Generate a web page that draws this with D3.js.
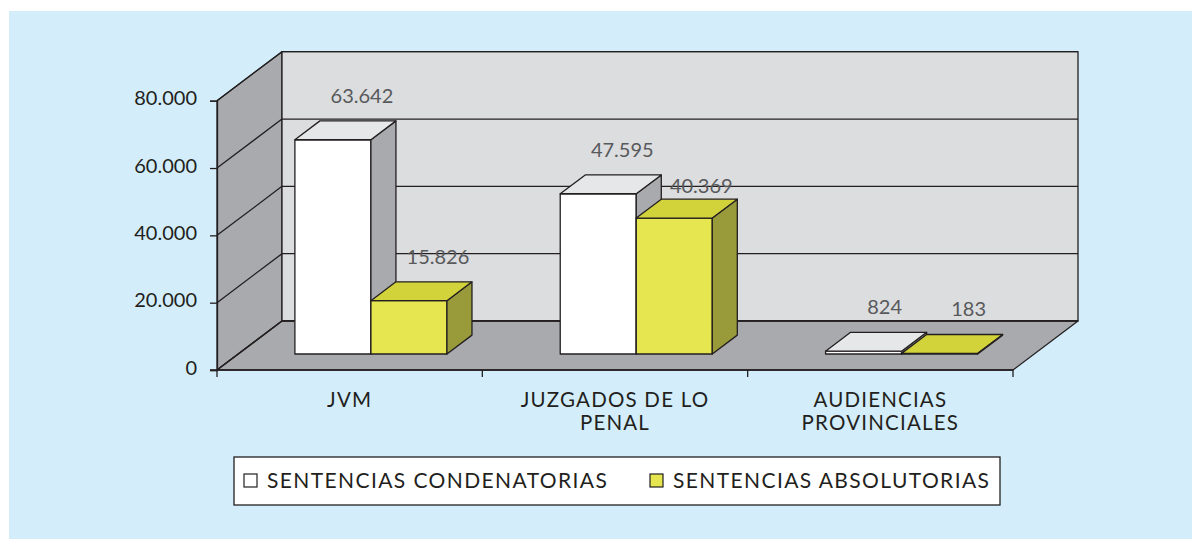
<!DOCTYPE html>
<html>
<head>
<meta charset="utf-8">
<script src="https://cdn.jsdelivr.net/npm/d3@7"></script>
<style>
  html, body { margin: 0; padding: 0; background: #fff; }
  svg { display: block; font-family: Lato, "Open Sans", sans-serif; }
</style>
</head>
<body>
<div id="chart"></div>
<script>
// data
const categories = ["JVM", "JUZGADOS DE LO PENAL", "AUDIENCIAS PROVINCIALES"]
const categoryLines = [["JVM"], ["JUZGADOS DE LO", "PENAL"], ["AUDIENCIAS", "PROVINCIALES"]]
const seriesNames = ["SENTENCIAS CONDENATORIAS", "SENTENCIAS ABSOLUTORIAS"]
const condenatorias = [63642, 47595, 824]
const absolutorias = [15826, 40369, 183]
const yTicks = [0, 20000, 40000, 60000, 80000]

// layout
const width = 1192, height = 539
const DX = 65, DY = 49            // depth of the floor
const zFront = 0.327, zBack = 0.712 // depth slot of the bars
// hand placed labels in the original ([dx, dy] per bar)
const labelNudge = [[[0, 0], [0, 0]], [[-5, 0], [-2, 12]], [[-8, 0], [0, 0]]]

const colors = {
  bg: "#d3eefa",
  wall: "#dcdddf",
  side: "#a9aaad",
  line: "#231f20",
  white: { front: "#ffffff", top: "#e6e7e8", side: "#a9aaad" },
  yellow: { front: "#e6e651", top: "#d2d23a", side: "#999b3b" }
}

const es = d3.formatLocale({ decimal: ",", thousands: ".", grouping: [3], currency: ["", " €"] })
const fmt = es.format(",d")

const svg = d3.select("#chart").append("svg")
  .attr("width", width)
  .attr("height", height)

svg.append("rect")
  .attr("x", 9).attr("y", 11)
  .attr("width", width - 9).attr("height", height - 11)
  .attr("fill", colors.bg)

const x = d3.scaleBand().domain(categories).range([217, 1013])
const xs = d3.scaleBand().domain(seriesNames).range([0, x.bandwidth()]).paddingOuter(0.745)
const y = d3.scaleLinear().domain([0, 80000]).range([370, 100.7])

const x0 = x.range()[0], x1 = x.range()[1]
const proj = (px, v, z) => [px + z * DX, y(v) - z * DY]
const line = d3.line()

// walls and floor
const frame = svg.append("g").attr("stroke", colors.line).attr("stroke-width", 1.3).attr("stroke-linejoin", "round")

frame.append("path")
  .attr("fill", colors.side)
  .attr("d", line([proj(x0, 0, 0), proj(x0, 80000, 0), proj(x0, 80000, 1), proj(x0, 0, 1)]) + "Z")

frame.append("path")
  .attr("fill", colors.wall)
  .attr("d", line([proj(x0, 0, 1), proj(x0, 80000, 1), proj(x1, 80000, 1), proj(x1, 0, 1)]) + "Z")

frame.append("path")
  .attr("fill", colors.side)
  .attr("d", line([proj(x0, 0, 0), proj(x1, 0, 0), proj(x1, 0, 1), proj(x0, 0, 1)]) + "Z")

// gridlines on side and back walls
yTicks.forEach(t => {
  frame.append("path")
    .attr("fill", "none")
    .attr("d", line([proj(x0, t, 0), proj(x0, t, 1), proj(x1, t, 1)]))
})

// y axis
const yAxis = svg.append("g").attr("transform", `translate(${x0},0)`)
  .call(d3.axisLeft(y).tickValues(yTicks).tickFormat(fmt).tickSize(7).tickPadding(13))
yAxis.select(".domain").attr("stroke", colors.line).attr("stroke-width", 1.3)
yAxis.selectAll(".tick line").attr("stroke", colors.line).attr("stroke-width", 1.3)
yAxis.selectAll(".tick text")
  .attr("fill", colors.line)
  .attr("font-size", 20)
  .attr("dy", "0.2em")
  .attr("font-family", "Lato, sans-serif")

// x axis ticks on the floor edge
const xTickPos = categories.map(c => x(c)).concat([x1])
svg.append("g").selectAll("line").data(xTickPos).join("line")
  .attr("x1", d => d).attr("x2", d => d)
  .attr("y1", y(0)).attr("y2", y(0) + 7)
  .attr("stroke", colors.line).attr("stroke-width", 1.3)

svg.append("line")
  .attr("x1", x0 - 7).attr("x2", x1)
  .attr("y1", y(0)).attr("y2", y(0))
  .attr("stroke", colors.line).attr("stroke-width", 1.3)

// category labels
svg.append("g").selectAll("text").data(categories).join("text")
  .attr("text-anchor", "middle")
  .attr("font-size", 20.5)
  .attr("letter-spacing", 1.2)
  .attr("fill", colors.line)
  .attr("transform", d => `translate(${x(d) + x.bandwidth() / 2},407)`)
  .each(function(d, i) {
    d3.select(this).selectAll("tspan").data(categoryLines[i]).join("tspan")
      .attr("x", 0)
      .attr("dy", (l, j) => j === 0 ? 0 : 23)
      .text(l => l)
  })

// bars
const barData = []
categories.forEach((c, i) => {
  barData.push({ cat: c, i: i, s: seriesNames[0], v: condenatorias[i], col: colors.white, k: 0 })
  barData.push({ cat: c, i: i, s: seriesNames[1], v: absolutorias[i], col: colors.yellow, k: 1 })
})

const bars = svg.append("g").attr("stroke", colors.line).attr("stroke-width", 1.3).attr("stroke-linejoin", "round")

barData.forEach(d => {
  const bx = x(d.cat) + xs(d.s)
  const bw = xs.bandwidth()
  const g = bars.append("g")
  g.append("path").attr("fill", d.col.front)
    .attr("d", line([proj(bx, 0, zFront), proj(bx + bw, 0, zFront), proj(bx + bw, d.v, zFront), proj(bx, d.v, zFront)]) + "Z")
  g.append("path").attr("fill", d.col.side)
    .attr("d", line([proj(bx + bw, 0, zFront), proj(bx + bw, 0, zBack), proj(bx + bw, d.v, zBack), proj(bx + bw, d.v, zFront)]) + "Z")
  g.append("path").attr("fill", d.col.top)
    .attr("d", line([proj(bx, d.v, zFront), proj(bx + bw, d.v, zFront), proj(bx + bw, d.v, zBack), proj(bx, d.v, zBack)]) + "Z")
})

// value labels
svg.append("g").selectAll("text").data(barData).join("text")
  .attr("text-anchor", "middle")
  .attr("font-size", 20)
  .attr("fill", "#58595b")
  .attr("x", d => proj(x(d.cat) + xs(d.s) + xs.bandwidth() / 2, d.v, zBack)[0] + 4 + labelNudge[d.i][d.k][0])
  .attr("y", d => proj(0, d.v, zBack)[1] - 25 + labelNudge[d.i][d.k][1])
  .attr("dy", "0.35em")
  .text(d => fmt(d.v))

// legend
const legend = svg.append("g").attr("transform", "translate(234,457)")
legend.append("rect")
  .attr("width", 766).attr("height", 48)
  .attr("fill", "#fff").attr("stroke", colors.line).attr("stroke-width", 1.3)

const legendX = [10, 416]
seriesNames.forEach((s, i) => {
  const it = legend.append("g").attr("transform", `translate(${legendX[i]},17)`)
  it.append("rect").attr("width", 13).attr("height", 13)
    .attr("fill", i === 0 ? colors.white.front : colors.yellow.front)
    .attr("stroke", colors.line).attr("stroke-width", 1.2)
  it.append("text")
    .attr("x", 23).attr("y", 7).attr("dy", "0.35em")
    .attr("font-size", 21)
    .attr("letter-spacing", 1.4)
    .attr("fill", colors.line)
    .text(s)
})
</script>
</body>
</html>
